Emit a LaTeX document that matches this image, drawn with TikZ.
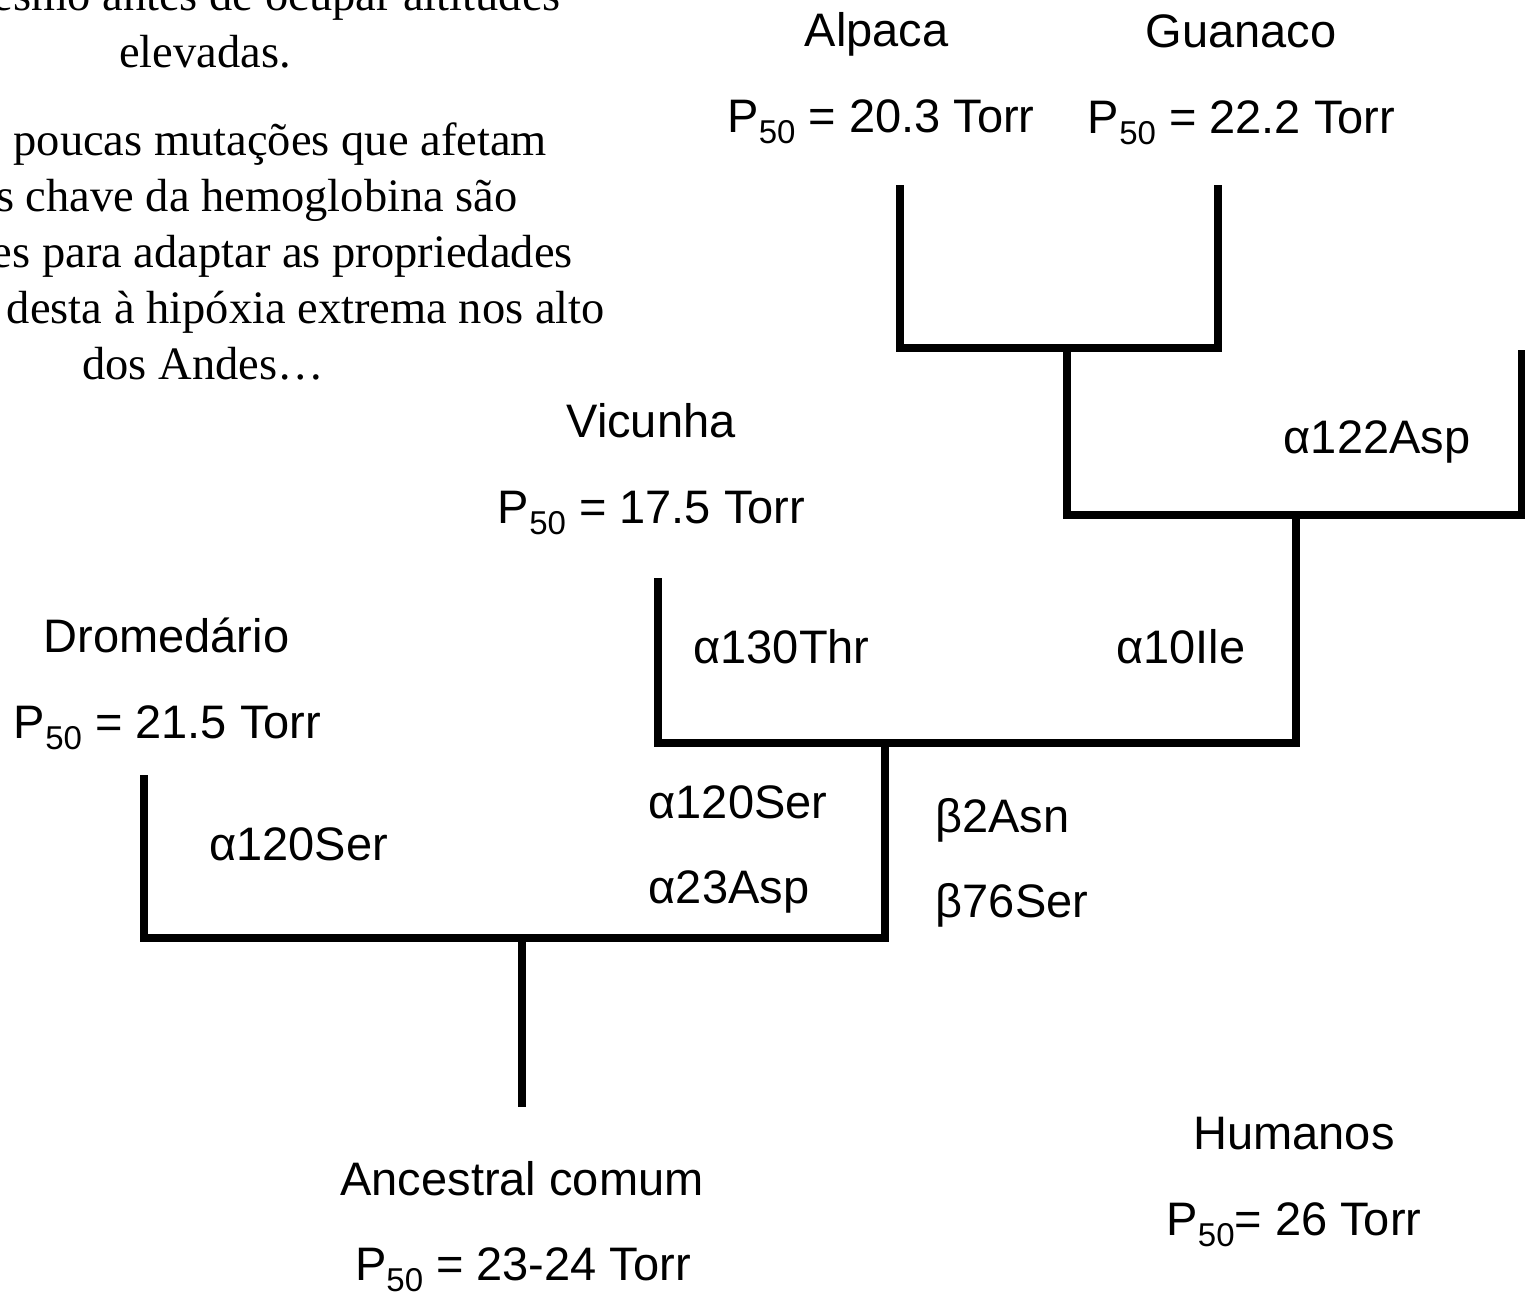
\documentclass[tikz,border=0pt]{standalone}
\usepackage{fontspec}
\setmainfont{Liberation Sans}
\newfontfamily\serifnote{Liberation Serif}
\newcommand{\pfifty}{P\raisebox{-11.5pt}{\fontsize{33}{33}\selectfont 50}}
\begin{document}
\begin{tikzpicture}[x=1pt,y=-1pt,
  lab/.style={font=\fontsize{47}{56}\selectfont, inner sep=0pt, anchor=base},
  note/.style={font=\serifnote\fontsize{46.5}{56}\selectfont, inner sep=0pt},
  branch/.style={line width=7.5pt, line join=miter, black}]
\useasboundingbox (0,0) rectangle (1525,1293);
\fill[white] (0,0) rectangle (1525,1293);

% serif note text, clipped at the left edge
\begin{scope}
\clip (0,0) rectangle (1525,1293);
\node[note, anchor=base east] (n1) at (561,10) {esmo antes de ocupar altitudes};
\node[note, anchor=base] (n2) at (205,67) {elevadas.};
\node[note, anchor=base east] (n3) at (547,155) {poucas mutações que afetam};
\node[note, anchor=base east] (n4) at (518,211) {os chave da hemoglobina são};
\node[note, anchor=base east] (n5) at (573,267) {es para adaptar as propriedades};
\node[note, anchor=base east] (n6) at (605,323) {desta à hipóxia extrema nos alto};
\node[note, anchor=base] (n7) at (203,379) {dos Andes…};
\end{scope}

% tree coordinates
\coordinate (tAlp) at (900,185);
\coordinate (tGua) at (1218,185);
\coordinate (tR) at (1522,350);
\coordinate (tVic) at (658,578);
\coordinate (tDro) at (144,775);
\coordinate (jAG) at (1067,348);
\coordinate (jB) at (1296,515);
\coordinate (jV) at (885,743);
\coordinate (jD) at (522,938);
\coordinate (root) at (522,1107);

\draw[branch] (tAlp) |- (jAG) -| (tGua);
\draw[branch] (jAG) |- (jB) -| (tR);
\draw[branch] (jB) |- (jV) -| (tVic);
\draw[branch] (jV) |- (jD) -| (tDro);
\draw[branch] (jD) -- (root);

% labels
\node[lab] (alp) at (876.5,46) {Alpaca};
\node[lab] (alpP) at (881,132) {\pfifty{} = 20.3 Torr};
\node[lab] (gua) at (1241,47) {Guanaco};
\node[lab] (guaP) at (1241.5,133) {\pfifty{} = 22.2 Torr};
\node[lab] (m122) at (1377,453) {α122Asp};
\node[lab] (vic) at (651,437) {Vicunha};
\node[lab] (vicP) at (651.5,523) {\pfifty{} = 17.5 Torr};
\node[lab] (m130) at (781.5,663) {α130Thr};
\node[lab] (m10) at (1181,663) {α10Ile};
\node[lab] (dro) at (166.5,652) {Dromedário};
\node[lab] (droP) at (167.5,738) {\pfifty{} = 21.5 Torr};
\node[lab] (m120a) at (298.5,860) {α120Ser};
\node[lab] (m120b) at (738,818) {α120Ser};
\node[lab] (m23) at (729,903) {α23Asp};
\node[lab] (b2) at (1002.5,832) {β2Asn};
\node[lab] (b76) at (1012,917) {β76Ser};
\node[lab] (anc) at (522,1195) {Ancestral comum};
\node[lab] (ancP) at (523,1280) {\pfifty{} = 23-24 Torr};
\node[lab] (hum) at (1294,1149) {Humanos};
\node[lab] (humP) at (1294,1235) {\pfifty{}= 26 Torr};
\end{tikzpicture}
\end{document}
